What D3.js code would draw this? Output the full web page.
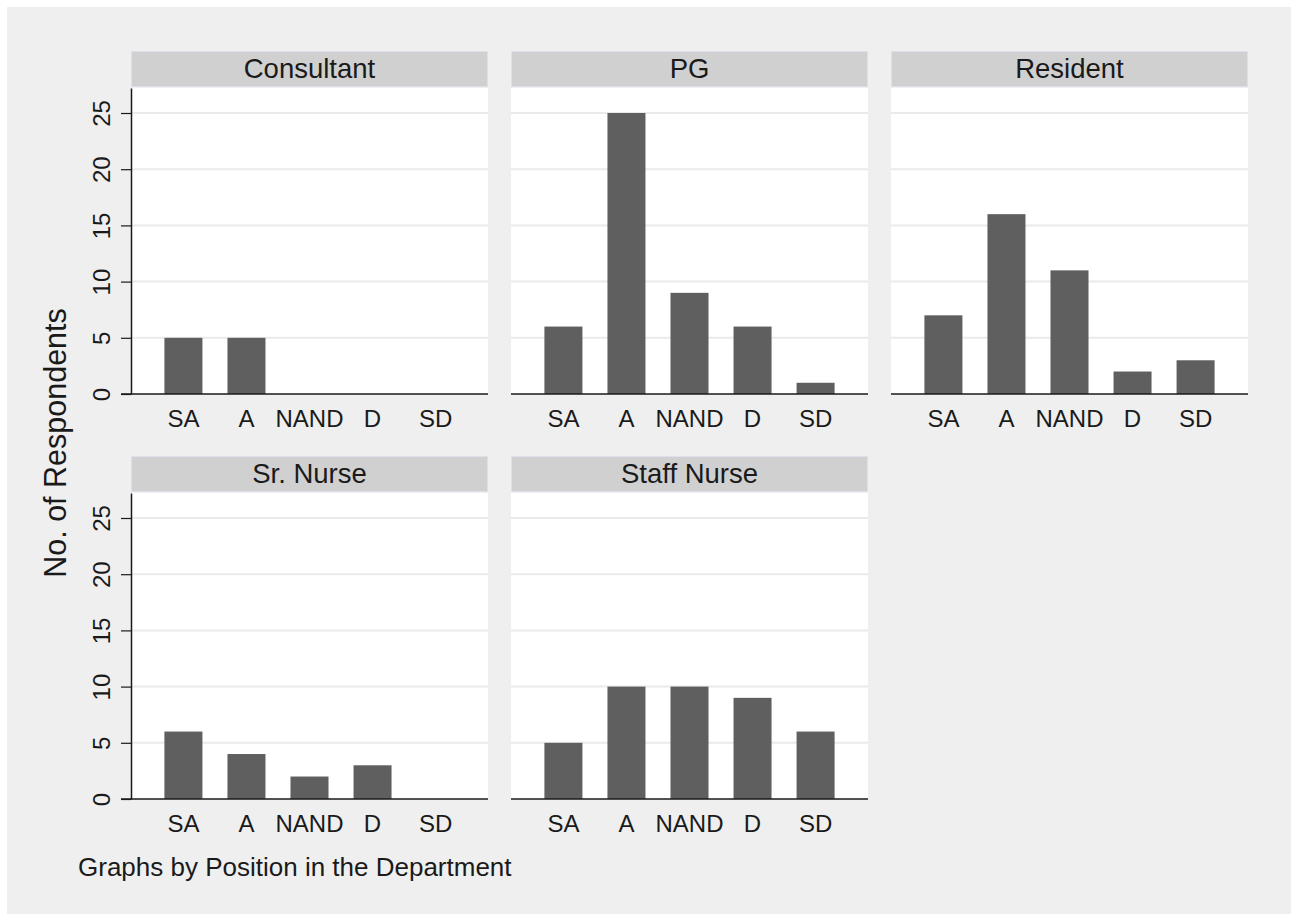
<!DOCTYPE html>
<html>
<head>
<meta charset="utf-8">
<script src="https://cdn.jsdelivr.net/npm/d3@7"></script>
<style>
  body { margin: 0; background: #ffffff; }
  svg text { font-family: "Liberation Sans", Arial, sans-serif; fill: #1a1a1a; }
</style>
</head>
<body>
<div id="chart"></div>
<script>
const categories = ['SA', 'A', 'NAND', 'D', 'SD'];
const groups = ['Consultant', 'PG', 'Resident', 'Sr. Nurse', 'Staff Nurse'];
const consultant = [5, 5, 0, 0, 0];
const pg = [6, 25, 9, 6, 1];
const resident = [7, 16, 11, 2, 3];
const srNurse = [6, 4, 2, 3, 0];
const staffNurse = [5, 10, 10, 9, 6];
const yTicks = [0, 5, 10, 15, 20, 25];

const seriesList = [consultant, pg, resident, srNurse, staffNurse];

const W = 1291, H = 914;
const svg = d3.select('#chart').append('svg')
    .attr('width', W)
    .attr('height', H);

svg.append('rect')
    .attr('x', 7).attr('y', 7)
    .attr('width', W - 7).attr('height', H - 7)
    .attr('fill', '#efefef');

const colX = [131, 511, 891];
const rowTop = [51, 456];
const panelW = 357;
const headerH = 36;
const plotH = 306;

const x = d3.scaleBand()
    .domain(categories)
    .range([0, panelW])
    .paddingInner(0.397)
    .paddingOuter(0.53);

const y = d3.scaleLinear()
    .domain([0, 306 / 11.24])
    .range([plotH, 0]);

groups.forEach((name, i) => {
    const col = i % 3;
    const row = Math.floor(i / 3);
    const px = colX[col];
    const hy = rowTop[row];
    const py = hy + headerH + 1;

    // Header strip
    svg.append('rect')
        .attr('x', px + 0.5).attr('y', hy + 0.5)
        .attr('width', panelW - 1).attr('height', headerH - 1)
        .attr('fill', '#d0d0d0')
        .attr('stroke', '#dde0ea')
        .attr('stroke-width', 1);

    svg.append('text')
        .attr('x', px + panelW / 2)
        .attr('y', hy + 27)
        .attr('text-anchor', 'middle')
        .style('font-size', '27.5px')
        .text(name);

    const g = svg.append('g')
        .attr('transform', `translate(${px},${py})`);

    g.append('rect')
        .attr('width', panelW)
        .attr('height', plotH)
        .attr('fill', '#ffffff');

    // Grid lines
    g.selectAll('.grid')
        .data(yTicks.filter(t => t > 0))
        .enter().append('line')
        .attr('x1', 0).attr('x2', panelW)
        .attr('y1', d => y(d)).attr('y2', d => y(d))
        .attr('stroke', '#eaeaea')
        .attr('stroke-width', 2);

    // Bars
    g.selectAll('.bar')
        .data(seriesList[i])
        .enter().append('rect')
        .attr('x', (d, j) => x(categories[j]))
        .attr('y', d => y(d))
        .attr('width', x.bandwidth())
        .attr('height', d => plotH - y(d))
        .attr('fill', '#5f5f5f');

    // Baseline
    g.append('line')
        .attr('x1', col === 0 ? -10 : 0).attr('x2', panelW)
        .attr('y1', plotH).attr('y2', plotH)
        .attr('stroke', '#1a1a1a')
        .attr('stroke-width', 1.5);

    // Category labels
    const xAxis = g.append('g')
        .attr('transform', `translate(0,${plotH})`)
        .call(d3.axisBottom(x).tickSize(0).tickPadding(0));
    xAxis.select('.domain').remove();
    xAxis.selectAll('text')
        .attr('dy', null)
        .attr('y', 33)
        .style('font-size', '24px')
        .style('fill', '#1a1a1a')
        .style('font-family', '"Liberation Sans", Arial, sans-serif');

    // Y axis on first column only
    if (col === 0) {
        const yAxis = g.append('g')
            .call(d3.axisLeft(y).tickValues(yTicks).tickSize(10).tickPadding(0).tickSizeOuter(0));
        yAxis.select('.domain')
            .attr('stroke', '#1a1a1a')
            .attr('stroke-width', 1.5);
        yAxis.selectAll('.tick line')
            .attr('stroke', '#1a1a1a')
            .attr('stroke-width', 1.2);
        yAxis.selectAll('.tick text')
            .attr('x', null).attr('dy', null)
            .attr('text-anchor', 'middle')
            .attr('transform', 'translate(-21,0) rotate(-90)')
            .style('font-size', '24px')
            .style('fill', '#1a1a1a')
            .style('font-family', '"Liberation Sans", Arial, sans-serif');
    }
});

// Y axis title
svg.append('text')
    .attr('transform', 'translate(66,443) rotate(-90)')
    .attr('text-anchor', 'middle')
    .style('font-size', '30.5px')
    .text('No. of Respondents');

// Note
svg.append('text')
    .attr('x', 78)
    .attr('y', 876)
    .style('font-size', '26px')
    .text('Graphs by Position in the Department');
</script>
</body>
</html>
